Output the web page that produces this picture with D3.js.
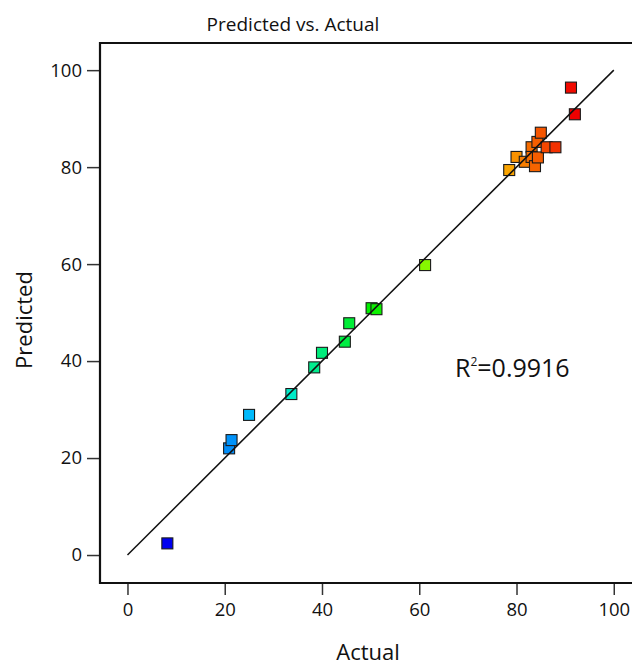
<!DOCTYPE html>
<html>
<head>
<meta charset="utf-8">
<script src="https://cdn.jsdelivr.net/npm/d3@7"></script>
<style>
  body { margin: 0; background: #fff; }
  text { font-family: "Open Sans", "DejaVu Sans", sans-serif; fill: #111; }
</style>
</head>
<body>
<svg id="plot" width="632" height="665"></svg>
<script>
"use strict";

// Data
const actual = [8.2, 20.9, 21.4, 25.0, 33.7, 38.4, 40.0, 44.7, 45.6, 50.2, 51.2, 61.2,
  78.5, 80.0, 81.7, 83.1, 83.1, 83.8, 84.3, 84.4, 85.0, 86.2, 88.0, 91.2, 92.0];
const predicted = [2.4, 22.0, 23.7, 28.9, 33.2, 38.7, 41.7, 44.0, 47.8, 50.9, 50.7, 59.8,
  79.4, 82.1, 81.1, 84.1, 82.1, 80.2, 85.2, 82.0, 87.1, 84.1, 84.1, 96.4, 90.9];
const ticks = [0, 20, 40, 60, 80, 100];
const r2Text = "0.9916";

var graph = {};
graph.svg = d3.select("#plot");
graph.box = { left: 100, top: 43, right: 641, bottom: 583 };

graph.x = d3.scaleLinear()
  .domain([-5.65, 105.6])
  .range([graph.box.left, graph.box.right]);

graph.y = d3.scaleLinear()
  .domain([-5.77, 105.6])
  .range([graph.box.bottom, graph.box.top]);

// rainbow by actual value, blue -> red
var lo = d3.min(actual), hi = d3.max(actual);
graph.color = d3.scaleLinear()
  .domain(d3.range(5).map(i => lo + (hi - lo) * i / 4))
  .range(["#0000f0", "#00e8ff", "#00f000", "#ffff00", "#f00000"]);

// Title
graph.svg.append("text")
  .attr("x", 293)
  .attr("y", 31)
  .attr("text-anchor", "middle")
  .style("font-size", "19px")
  .text("Predicted vs. Actual");

// Axes
graph.gX = graph.svg.append("g")
  .attr("transform", "translate(0," + graph.box.bottom + ")")
  .call(d3.axisBottom(graph.x).tickValues(ticks).tickSize(12).tickPadding(8));

graph.gY = graph.svg.append("g")
  .attr("transform", "translate(" + graph.box.left + ",0)")
  .call(d3.axisLeft(graph.y).tickValues(ticks).tickSize(13).tickPadding(5));

[graph.gX, graph.gY].forEach(g => {
  g.select(".domain").remove();
  g.selectAll(".tick line").attr("stroke", "#333").attr("stroke-width", 1.5);
  g.selectAll(".tick text")
    .style("font-size", "18.5px")
    .style("font-family", "\"Open Sans\", sans-serif")
    .attr("fill", "#111");
});

// frame (right side runs past the window)
graph.svg.append("path")
  .attr("d", "M" + graph.box.right + "," + graph.box.top +
    "H" + graph.box.left + "V" + graph.box.bottom + "H" + graph.box.right)
  .attr("fill", "none")
  .attr("stroke", "#111")
  .attr("stroke-width", 2.2);

// Axis titles
graph.svg.append("text")
  .attr("x", 368)
  .attr("y", 660)
  .attr("text-anchor", "middle")
  .style("font-size", "22px")
  .text("Actual");

graph.svg.append("text")
  .attr("transform", "translate(32,320) rotate(-90)")
  .attr("text-anchor", "middle")
  .style("font-size", "22px")
  .text("Predicted");

// Points
var ms = 11;
graph.svg.append("g")
  .selectAll("rect")
  .data(actual.map((a, i) => ({ a: a, p: predicted[i] })))
  .enter()
  .append("rect")
  .attr("x", d => graph.x(d.a) - ms / 2)
  .attr("y", d => graph.y(d.p) - ms / 2)
  .attr("width", ms)
  .attr("height", ms)
  .attr("fill", d => graph.color(d.a))
  .attr("stroke", "#1a1a1a")
  .attr("stroke-width", 1.1);

// 1:1 line on top
graph.svg.append("line")
  .attr("x1", graph.x(0))
  .attr("y1", graph.y(0))
  .attr("x2", graph.x(100))
  .attr("y2", graph.y(100))
  .attr("stroke", "#111")
  .attr("stroke-width", 1.5);

// R squared
var r2 = graph.svg.append("text")
  .attr("x", 455)
  .attr("y", 377)
  .style("font-size", "25px");
r2.append("tspan").text("R");
r2.append("tspan").attr("dy", -11).style("font-size", "12px").text("2");
r2.append("tspan").attr("dy", 11).text("=" + r2Text);
</script>
</body>
</html>
